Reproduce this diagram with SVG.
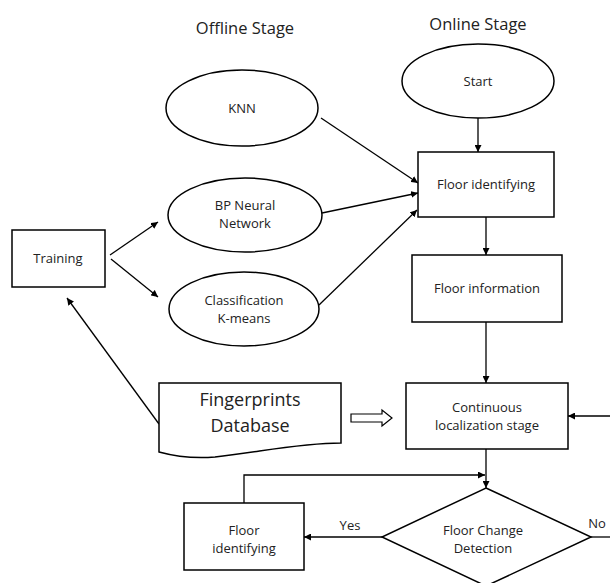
<svg xmlns="http://www.w3.org/2000/svg" width="610" height="583" viewBox="0 0 610 583">
<defs>
<marker id="ah" viewBox="0 0 10 10" refX="10" refY="5" markerWidth="7" markerHeight="7" markerUnits="userSpaceOnUse" orient="auto">
<path d="M0,0 L10,5 L0,10 Z" fill="#000"/>
</marker>
</defs>
<style>
.s{fill:#fff;stroke:#000;stroke-width:1.5}
.c{fill:none;stroke:#000;stroke-width:1.3}
.a{marker-end:url(#ah)}
text{font-family:"Open Sans","Liberation Sans",sans-serif;fill:#222;text-anchor:middle;font-size:13px}
.t{font-size:16.5px}
.b{font-size:18px}
</style>
<rect width="610" height="583" fill="#fff"/>
<text class="t" x="245" y="34">Offline Stage</text>
<text class="t" x="478" y="30">Online Stage</text>
<g id="connectors">
<line class="c a" x1="478" y1="118" x2="478" y2="152"/>
<line class="c a" x1="321" y1="118" x2="418" y2="183"/>
<line class="c a" x1="322" y1="213" x2="418" y2="193"/>
<line class="c a" x1="319" y1="305" x2="417" y2="210"/>
<line class="c a" x1="110" y1="255" x2="158" y2="222"/>
<line class="c a" x1="111" y1="259" x2="158" y2="297"/>
<line class="c a" x1="159" y1="424" x2="67" y2="298"/>
<line class="c a" x1="486" y1="217" x2="486" y2="255"/>
<line class="c a" x1="486" y1="322" x2="486" y2="383"/>
<line class="c a" x1="610" y1="416" x2="568" y2="416"/>
<line class="c a" x1="486" y1="449" x2="486" y2="488"/>
<polyline class="c a" points="244,503 244,475 485,475"/>
<line class="c a" x1="382" y1="537" x2="304" y2="537"/>
<line class="c" x1="591" y1="537" x2="610" y2="537"/>
<path d="M351,414 H382 V410 L392,418 L382,426 V422 H351 Z" fill="#fff" stroke="#000" stroke-width="1.2"/>
<text x="350" y="530">Yes</text>
<text x="597" y="528">No</text>
</g>
<g id="knn">
<ellipse class="s" cx="242" cy="108" rx="76" ry="38"/>
<text x="242" y="113">KNN</text>
</g>
<g id="start">
<ellipse class="s" cx="478" cy="81" rx="76" ry="37"/>
<text x="478" y="86">Start</text>
</g>
<g id="floor-identifying">
<rect class="s" x="418" y="152" width="136" height="65"/>
<text x="486" y="189">Floor identifying</text>
</g>
<g id="bp">
<ellipse class="s" cx="245" cy="215" rx="77" ry="37"/>
<text x="245" y="210">BP Neural</text>
<text x="245" y="228">Network</text>
</g>
<g id="classification">
<ellipse class="s" cx="244" cy="309" rx="75" ry="37"/>
<text x="244" y="305">Classification</text>
<text x="244" y="323">K-means</text>
</g>
<g id="training">
<rect class="s" x="12" y="230" width="93" height="57"/>
<text x="58" y="263">Training</text>
</g>
<g id="floor-information">
<rect class="s" x="412" y="255" width="150" height="67"/>
<text x="487" y="293">Floor information</text>
</g>
<g id="fingerprints">
<path class="s" d="M159,383 H341 V443 C300,443 260,452 215,457 C190,459 170,455 159,452 Z"/>
<text class="b" x="250" y="406">Fingerprints</text>
<text class="b" x="250" y="432">Database</text>
</g>
<g id="continuous">
<rect class="s" x="406" y="383" width="162" height="66"/>
<text x="487" y="412">Continuous</text>
<text x="487" y="430">localization stage</text>
</g>
<g id="floor-identifying-2">
<rect class="s" x="184" y="503" width="120" height="67"/>
<text x="244" y="535">Floor</text>
<text x="244" y="553">identifying</text>
</g>
<g id="floor-change">
<polygon class="s" points="486,488 591,537 486,586 382,537"/>
<text x="483" y="535">Floor Change</text>
<text x="483" y="553">Detection</text>
</g>
</svg>
